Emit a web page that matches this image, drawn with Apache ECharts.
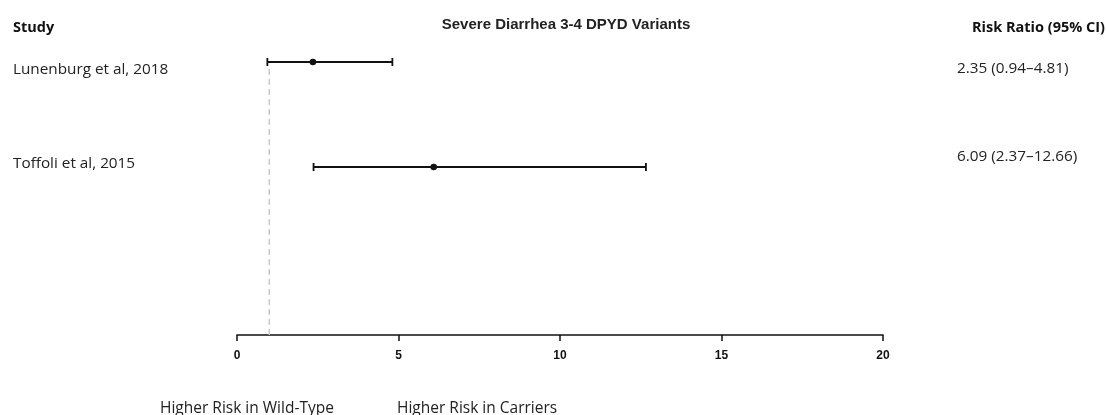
<!DOCTYPE html>
<html>
<head>
<meta charset="utf-8">
<script src="https://cdn.jsdelivr.net/npm/echarts@6/dist/echarts.min.js"></script>
<style>
  html, body { margin: 0; padding: 0; background: #fff; }
  #chart { width: 1106px; height: 415px; }
</style>
</head>
<body>
<div id="chart"></div>
<script>
// Forest plot: severe (grade 3-4) diarrhea, DPYD variant carriers vs wild-type
const studies = ['Lunenburg et al, 2018', 'Toffoli et al, 2015'];
const riskRatio = [2.35, 6.09];
const ciLow = [0.94, 2.37];
const ciHigh = [4.81, 12.66];
const rowPos = [2.6, 1.6];
const xTicks = [0, 5, 10, 15, 20];
const refValue = 1;

const ciText = studies.map((s, i) =>
  riskRatio[i].toFixed(2) + ' (' + ciLow[i].toFixed(2) + '\u2013' + ciHigh[i].toFixed(2) + ')');

const bodyFont = '"Open Sans", Lato, sans-serif';
const studyDy = [8, -3];
const ciDy = [7, -10];

const chart = echarts.init(document.getElementById('chart'), null, { renderer: 'canvas' });

chart.setOption({
  animation: false,
  backgroundColor: '#fff',
  title: {
    text: 'Severe Diarrhea 3-4 DPYD Variants',
    left: 561, top: 12, textAlign: 'center',
    textStyle: { fontFamily: 'Liberation Sans, Arial, sans-serif', fontSize: 15, fontWeight: 'bold', color: '#222' }
  },
  grid: { left: 237, right: 223, top: 20, bottom: 80 },
  xAxis: {
    type: 'value', min: 0, max: 20, interval: 5,
    axisLine: { show: true, onZero: false, lineStyle: { color: '#111', width: 1.5 } },
    axisTick: { show: true, length: 6, lineStyle: { color: '#111', width: 1.5 } },
    splitLine: { show: false },
    axisLabel: {
      margin: 15, color: '#111', fontSize: 12, fontWeight: 'bold',
      fontFamily: 'Liberation Sans, Arial, sans-serif',
      formatter: v => xTicks.includes(v) ? String(v) : ''
    }
  },
  yAxis: { type: 'value', min: 0, max: 3, show: false },
  series: [
    {
      // dashed line of no effect
      type: 'line',
      data: [[refValue, 0], [refValue, 2.55]],
      symbol: 'none',
      lineStyle: { color: '#c8c8c8', width: 1.5, type: [6, 4] },
      silent: true
    },
    {
      type: 'custom',
      clip: false,
      data: studies.map((s, i) => [ciLow[i], ciHigh[i], riskRatio[i], rowPos[i]]),
      renderItem: function (params, api) {
        const i = params.dataIndex;
        const y = api.value(3);
        const p0 = api.coord([api.value(0), y]);
        const p1 = api.coord([api.value(1), y]);
        const pm = api.coord([api.value(2), y]);
        const cap = 4;
        const stroke = { stroke: '#111', lineWidth: 1.8 };
        return {
          type: 'group',
          children: [
            { type: 'line', shape: { x1: p0[0], y1: p0[1], x2: p1[0], y2: p1[1] }, style: stroke },
            { type: 'line', shape: { x1: p0[0], y1: p0[1] - cap, x2: p0[0], y2: p0[1] + cap }, style: stroke },
            { type: 'line', shape: { x1: p1[0], y1: p1[1] - cap, x2: p1[0], y2: p1[1] + cap }, style: stroke },
            { type: 'circle', shape: { cx: pm[0], cy: pm[1], r: 3.3 }, style: { fill: '#111' } },
            { type: 'text', style: { x: 13, y: pm[1] + studyDy[i], text: studies[i], fill: '#222',
                font: '15.3px ' + bodyFont, textVerticalAlign: 'middle', verticalAlign: 'middle' } },
            { type: 'text', style: { x: 957, y: pm[1] + ciDy[i], text: ciText[i], fill: '#222',
                font: '15.3px ' + bodyFont, textVerticalAlign: 'middle', verticalAlign: 'middle' } }
          ]
        };
      }
    }
  ],
  graphic: [
    { type: 'text', left: 13, top: 20, style: { text: 'Study', fill: '#111', font: 'bold 14.5px ' + bodyFont } },
    { type: 'text', right: 1, top: 20, style: { text: 'Risk Ratio (95% CI)', fill: '#111', font: 'bold 14.5px ' + bodyFont } },
    { type: 'text', left: 160, top: 401, style: { text: 'Higher Risk in Wild-Type', fill: '#222', font: '15.5px ' + bodyFont } },
    { type: 'text', left: 397, top: 401, style: { text: 'Higher Risk in Carriers', fill: '#222', font: '15.5px ' + bodyFont } }
  ]
});
</script>
</body>
</html>
